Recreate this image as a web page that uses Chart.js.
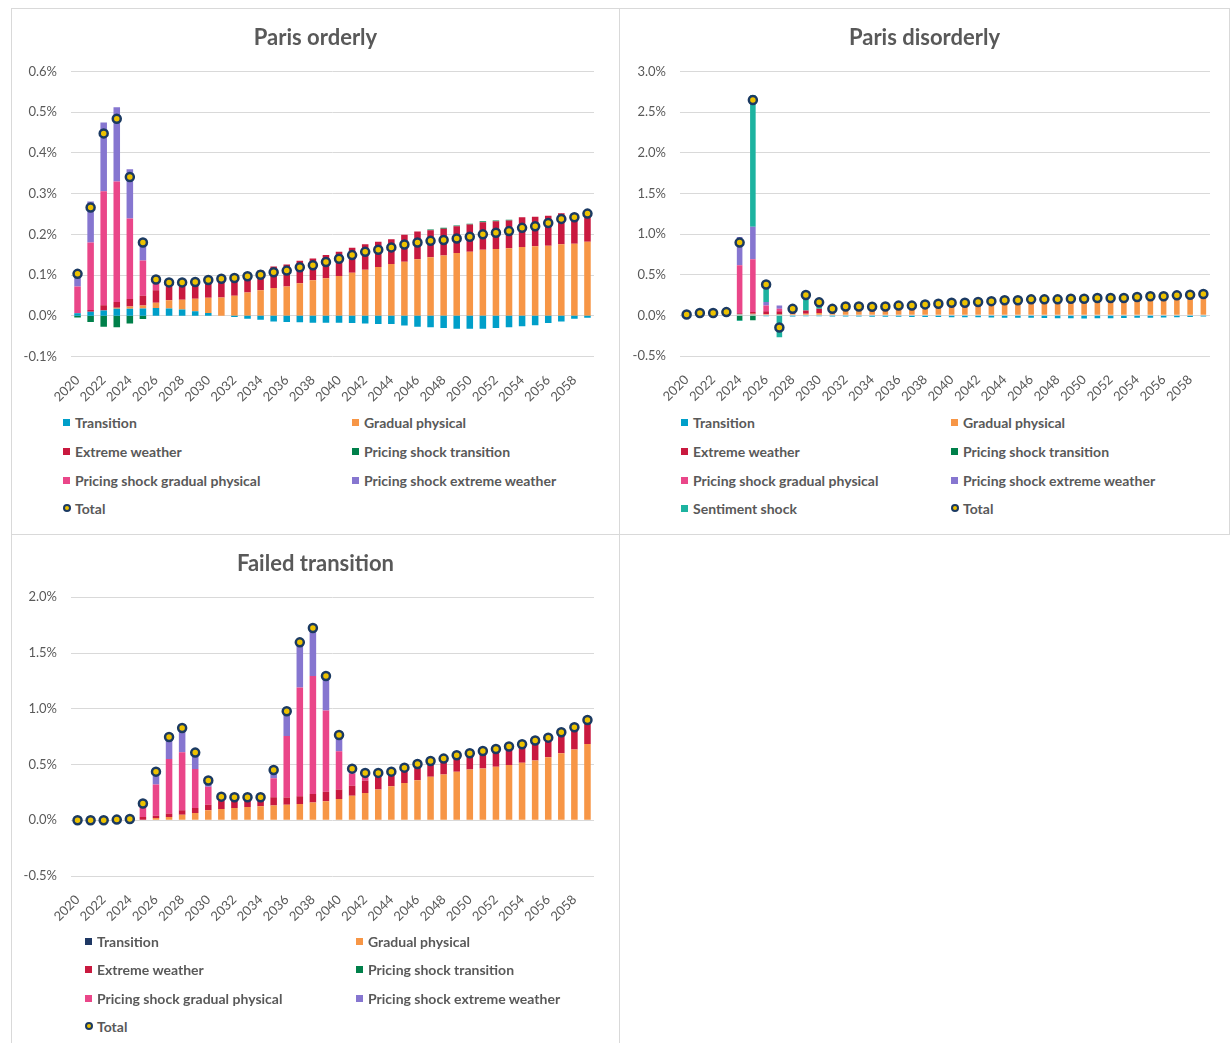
<!DOCTYPE html>
<html>
<head>
<meta charset="utf-8">
<script src="https://cdn.jsdelivr.net/npm/chart.js@4.4.1/dist/chart.umd.min.js"></script>
<style>
  body { margin: 0; background: #fff; font-family: Lato, sans-serif; }
  #page { position: relative; width: 1230px; height: 1043px; overflow: hidden; }
  .panel { position: absolute; border: 1px solid #d9d9d9; box-sizing: border-box; background: #fff; }
  .panel canvas { position: absolute; left: 0; top: 0; }
  .ttl { position: absolute; left: 0; right: 0; top: 14px; height: 24px; line-height: 24px; text-align: center;
         font: bold 22px Lato, sans-serif; color: #595959; }
  .lg { position: absolute; display: flex; align-items: center; height: 16px; white-space: nowrap;
        font: bold 14px Lato, sans-serif; color: #595959; }
  .lg .box { width: 7px; height: 7px; margin-right: 5px; flex: none; }
  .lg .dot { width: 8px; height: 8px; margin-right: 4px; border-radius: 50%; box-sizing: border-box;
             border: 2.5px solid #1b3a62; background: #edc200; flex: none; }
</style>
</head>
<body>
<div id="page">
  <div class="panel" id="p1" style="left:11px;top:8px;width:609px;height:527px"><canvas id="c1" width="607" height="400"></canvas></div>
  <div class="panel" id="p2" style="left:619px;top:8px;width:611px;height:527px"><canvas id="c2" width="609" height="400"></canvas></div>
  <div class="panel" id="p3" style="left:11px;top:534px;width:609px;height:520px"><canvas id="c3" width="607" height="400"></canvas></div>
</div>
<script>
const years = ['2020','2021','2022','2023','2024','2025','2026','2027','2028','2029',
  '2030','2031','2032','2033','2034','2035','2036','2037','2038','2039',
  '2040','2041','2042','2043','2044','2045','2046','2047','2048','2049',
  '2050','2051','2052','2053','2054','2055','2056','2057','2058','2059'];

// values in %
// --- Paris orderly ---
const poTransition = [0.006,0.010,0.013,0.017,0.017,0.018,0.019,0.018,0.0155,0.011,0.007,0.000,-0.003,-0.007,-0.010,-0.014,-0.015,-0.016,-0.017,-0.017,
  -0.017,-0.018,-0.019,-0.020,-0.020,-0.024,-0.027,-0.028,-0.030,-0.032,-0.032,-0.032,-0.030,-0.028,-0.026,-0.023,-0.018,-0.014,-0.007,-0.005];
const poGradual = [0,0,0,0.003,0.006,0.007,0.013,0.020,0.024,0.031,0.037,0.045,0.049,0.057,0.063,0.068,0.072,0.080,0.087,0.092,
  0.098,0.106,0.113,0.120,0.127,0.133,0.139,0.144,0.148,0.154,0.157,0.162,0.164,0.166,0.169,0.171,0.172,0.176,0.177,0.182];
const poExtreme = [0.001,0.004,0.013,0.014,0.018,0.024,0.031,0.038,0.0395,0.040,0.044,0.046,0.047,0.047,0.048,0.053,0.054,0.055,0.054,0.057,
  0.059,0.061,0.063,0.062,0.061,0.066,0.068,0.066,0.066,0.066,0.067,0.068,0.068,0.068,0.073,0.072,0.074,0.076,0.072,0.074];
const poPsTransition = [-0.004,-0.015,-0.027,-0.028,-0.019,-0.008,0,0,0,0,0,0,0,0,0,0,0,0,0,0,
  0,0,0,0,0,0,0,0.002,0.002,0.002,0.002,0.002,0.002,0.002,0,0,0,0,0,0];
const poPsGradual = [0.065,0.166,0.280,0.296,0.198,0.087,0.018,0.004,0.002,0,0,0,0,0,0,0,0,0,0,0,
  0,0,0,0,0,0,0,0,0,0,0,0,0,0,0,0,0,0,0,0];
const poPsExtreme = [0.035,0.101,0.169,0.182,0.121,0.052,0.008,0.002,0.001,0.001,0,0,0,0,0,0,0,0,0,0,
  0,0,0,0,0,0,0,0,0,0,0,0,0,0,0,0,0,0,0,0];
const poTotal = [0.103,0.266,0.448,0.484,0.341,0.180,0.089,0.082,0.082,0.083,0.088,0.091,0.093,0.097,0.101,0.107,0.111,0.119,0.124,0.132,
  0.140,0.149,0.157,0.162,0.168,0.175,0.180,0.184,0.186,0.190,0.194,0.200,0.204,0.208,0.216,0.220,0.228,0.238,0.242,0.251];

// --- Paris disorderly ---
const pdTransition = [0.002,0.004,0.005,0.006,0.010,0.010,-0.010,0.005,-0.015,-0.010,-0.010,-0.015,-0.015,-0.015,-0.018,-0.018,-0.018,-0.020,-0.020,-0.020,
  -0.022,-0.022,-0.024,-0.025,-0.028,-0.030,-0.030,-0.032,-0.035,-0.037,-0.038,-0.036,-0.036,-0.033,-0.030,-0.028,-0.025,-0.022,-0.020,-0.015];
const pdGradual = [0.002,0.004,0.005,0.007,0.005,0.010,0.015,0.010,0.020,0.020,0.030,0.045,0.070,0.075,0.080,0.085,0.095,0.100,0.115,0.125,
  0.140,0.142,0.155,0.168,0.180,0.185,0.197,0.200,0.203,0.212,0.213,0.219,0.219,0.216,0.225,0.232,0.229,0.236,0.240,0.244];
const pdExtreme = [0.006,0.022,0.020,0.027,0.010,0.020,0.035,0.035,0.015,0.040,0.050,0.035,0.045,0.045,0.040,0.040,0.040,0.038,0.038,0.036,
  0.035,0.033,0.032,0.030,0.031,0.030,0.030,0.029,0.029,0.030,0.030,0.030,0.030,0.030,0.030,0.030,0.030,0.032,0.034,0.034];
const pdPsTransition = [0,0,0,0,-0.060,-0.060,0,0,0,0,0,0,0,0,0,0,0,0,0,0,
  0,0,0,0,0,0,0,0,0,0,0,0,0,0,0,0,0,0,0,0];
const pdPsGradual = [0,0,0,0,0.590,0.650,0.070,0.030,0,0,0,0,0,0,0,0,0,0,0,0,
  0,0,0,0,0,0,0,0,0,0,0,0,0,0,0,0,0,0,0,0];
const pdPsExtreme = [0,0,0,0,0.350,0.400,0.045,0.040,0,0,0,0,0,0,0,0,0,0,0,0,
  0,0,0,0,0,0,0,0,0,0,0,0,0,0,0,0,0,0,0,0];
const pdSentiment = [0,0,0,0,-0.010,1.620,0.225,-0.270,0.060,0.200,0.090,0.015,0.010,0.005,0.003,0.003,0.003,0.002,0.002,0.002,
  0.002,0.002,0.002,0.002,0.002,0,0,0,0,0,0,0,0,0,0,0,0,0,0,0];
const pdTotal = [0.010,0.030,0.030,0.040,0.895,2.650,0.380,-0.150,0.080,0.250,0.160,0.080,0.110,0.110,0.105,0.110,0.120,0.120,0.135,0.143,
  0.155,0.155,0.165,0.175,0.185,0.185,0.197,0.197,0.197,0.205,0.205,0.213,0.213,0.213,0.225,0.234,0.234,0.246,0.254,0.263];

// --- Failed transition ---
const ftTransition = [0,0,0,0,0,0,0,0,0,0,0,0,0,0,0,0,0,0,0,0,
  0,0,0,0,0,0,0,0,0,0,0,0,0,0,0,0,0,0,0,0];
const ftGradual = [0,0,0,0.002,0.004,0.005,0.020,0.030,0.050,0.065,0.090,0.100,0.110,0.120,0.125,0.133,0.140,0.145,0.160,0.170,
  0.190,0.220,0.245,0.275,0.305,0.335,0.360,0.390,0.410,0.435,0.455,0.465,0.480,0.495,0.515,0.535,0.565,0.600,0.635,0.685];
const ftExtreme = [0,0,0,0.004,0.008,0.025,0.020,0.030,0.040,0.045,0.050,0.075,0.085,0.080,0.075,0.073,0.065,0.070,0.075,0.085,
  0.085,0.090,0.110,0.120,0.115,0.130,0.140,0.140,0.143,0.148,0.146,0.157,0.160,0.166,0.172,0.180,0.180,0.189,0.200,0.215];
const ftPsTransition = [0,0,0,0,0,0,0,0,0,0,0,0,0,0,0,0,0,0,0,0,
  0,0,0,0,0,0,0,0,0,0,0,0,0,0,0,0,0,0,0,0];
const ftPsGradual = [0,0,0,0,0,0.090,0.280,0.490,0.520,0.350,0.160,0.025,0.008,0.005,0.006,0.170,0.550,0.975,1.060,0.730,
  0.345,0.110,0.045,0.020,0.010,0.005,0.005,0.002,0,0,0,0,0,0,0,0,0,0,0,0];
const ftPsExtreme = [0,0,0,0,0,0.030,0.115,0.200,0.220,0.145,0.060,0.012,0.003,0,0,0.075,0.220,0.405,0.430,0.305,
  0.145,0.043,0.025,0.010,0.006,0.002,0,0,0,0,0,0,0,0,-0.005,0,-0.004,0,-0.004,0];
const ftTotal = [0,0,0,0.006,0.012,0.150,0.436,0.747,0.828,0.607,0.356,0.212,0.206,0.206,0.206,0.451,0.978,1.596,1.725,1.294,
  0.765,0.463,0.425,0.425,0.436,0.472,0.505,0.532,0.553,0.583,0.601,0.622,0.640,0.661,0.682,0.715,0.741,0.789,0.834,0.900];

const COL = {
  transition: '#009fc9', transitionDark: '#1f3864', gradual: '#f79646', extreme: '#c9193f',
  psTransition: '#00804a', psGradual: '#ea4689', psExtreme: '#8676d0', sentiment: '#1db3a0',
  totalFill: '#edc200', totalLine: '#1b3a62'
};

Chart.defaults.font.family = 'Lato, sans-serif';
Chart.defaults.color = '#595959';

function pct(v){
  if (Math.abs(v) < 1e-9) v = 0;
  return v.toFixed(1) + '%';
}

function build(canvasId, panelId, cfg){
  const datasets = [{
    type: 'line', label: 'Total', data: cfg.total, stack: 'total', order: 0,
    showLine: false, pointRadius: 4, pointHoverRadius: 4, pointBorderWidth: 2.5,
    pointBackgroundColor: COL.totalFill, pointBorderColor: COL.totalLine
  }];
  cfg.series.forEach(s => datasets.push({
    type: 'bar', label: s.name, data: s.data, backgroundColor: s.color, stack: 'bars', order: 1,
    barPercentage: cfg.barPct, categoryPercentage: 1, borderWidth: 0
  }));

  const canvas = document.getElementById(canvasId);
  new Chart(canvas.getContext('2d'), {
    data: { labels: years, datasets },
    options: {
      responsive: false, animation: false,
      layout: { padding: { left: 0, right: canvas.width - cfg.plotRight, top: cfg.plotTop, bottom: 0 } },
      plugins: { legend: { display: false }, tooltip: { enabled: false } },
      scales: {
        x: {
          stacked: true,
          grid: { display: false, drawTicks: false }, border: { display: false },
          ticks: { autoSkip: false, minRotation: 45, maxRotation: 45, padding: 16,
            color: '#595959', font: { size: 13 },
            callback: (v, i) => (i % 2 === 0 ? years[i] : '') },
          afterFit: s => { s.height = canvas.height - cfg.plotBottom; s.paddingLeft = 0; s.paddingRight = 0; }
        },
        y: {
          stacked: true, min: cfg.min, max: cfg.max,
          grid: { color: '#d9d9d9', drawTicks: false }, border: { display: false },
          ticks: { stepSize: cfg.step, padding: 14, color: '#595959', font: { size: 13 },
            callback: v => pct(v) },
          afterFit: s => { s.width = cfg.plotLeft; }
        }
      }
    }
  });

  const panel = document.getElementById(panelId);
  const ttl = document.createElement('div');
  ttl.className = 'ttl';
  ttl.textContent = cfg.title;
  panel.appendChild(ttl);

  // two-column legend like the spreadsheet one
  const items = cfg.series.map(s => ({ name: s.name, color: s.color })).concat([{ name: 'Total', dot: true }]);
  items.forEach((it, i) => {
    const el = document.createElement('div');
    el.className = 'lg';
    el.style.left = cfg.legendX[i % 2] + 'px';
    el.style.top = (cfg.legendY[Math.floor(i / 2)] - 9) + 'px';
    const mk = document.createElement('span');
    if (it.dot) mk.className = 'dot';
    else { mk.className = 'box'; mk.style.background = it.color; }
    el.appendChild(mk);
    el.appendChild(document.createTextNode(it.name));
    panel.appendChild(el);
  });
}

build('c1', 'p1', {
  title: 'Paris orderly', min: -0.1, max: 0.6, step: 0.1, barPct: 0.5,
  plotLeft: 59, plotRight: 582, plotTop: 62.5, plotBottom: 347.5,
  legendX: [51, 340], legendY: [414, 443, 472, 500],
  total: poTotal,
  series: [
    { name: 'Transition', data: poTransition, color: COL.transition },
    { name: 'Gradual physical', data: poGradual, color: COL.gradual },
    { name: 'Extreme weather', data: poExtreme, color: COL.extreme },
    { name: 'Pricing shock transition', data: poPsTransition, color: COL.psTransition },
    { name: 'Pricing shock gradual physical', data: poPsGradual, color: COL.psGradual },
    { name: 'Pricing shock extreme weather', data: poPsExtreme, color: COL.psExtreme }
  ]
});

build('c2', 'p2', {
  title: 'Paris disorderly', min: -0.5, max: 3.0, step: 0.5, barPct: 0.42,
  plotLeft: 60, plotRight: 590, plotTop: 62.5, plotBottom: 347,
  legendX: [61, 331], legendY: [414, 443, 472, 500],
  total: pdTotal,
  series: [
    { name: 'Transition', data: pdTransition, color: COL.transition },
    { name: 'Gradual physical', data: pdGradual, color: COL.gradual },
    { name: 'Extreme weather', data: pdExtreme, color: COL.extreme },
    { name: 'Pricing shock transition', data: pdPsTransition, color: COL.psTransition },
    { name: 'Pricing shock gradual physical', data: pdPsGradual, color: COL.psGradual },
    { name: 'Pricing shock extreme weather', data: pdPsExtreme, color: COL.psExtreme },
    { name: 'Sentiment shock', data: pdSentiment, color: COL.sentiment }
  ]
});

build('c3', 'p3', {
  title: 'Failed transition', min: -0.5, max: 2.0, step: 0.5, barPct: 0.5,
  plotLeft: 59, plotRight: 582, plotTop: 62.3, plotBottom: 341,
  legendX: [73, 344], legendY: [407, 435, 464, 492],
  total: ftTotal,
  series: [
    { name: 'Transition', data: ftTransition, color: COL.transitionDark },
    { name: 'Gradual physical', data: ftGradual, color: COL.gradual },
    { name: 'Extreme weather', data: ftExtreme, color: COL.extreme },
    { name: 'Pricing shock transition', data: ftPsTransition, color: COL.psTransition },
    { name: 'Pricing shock gradual physical', data: ftPsGradual, color: COL.psGradual },
    { name: 'Pricing shock extreme weather', data: ftPsExtreme, color: COL.psExtreme }
  ]
});
</script>
</body>
</html>
